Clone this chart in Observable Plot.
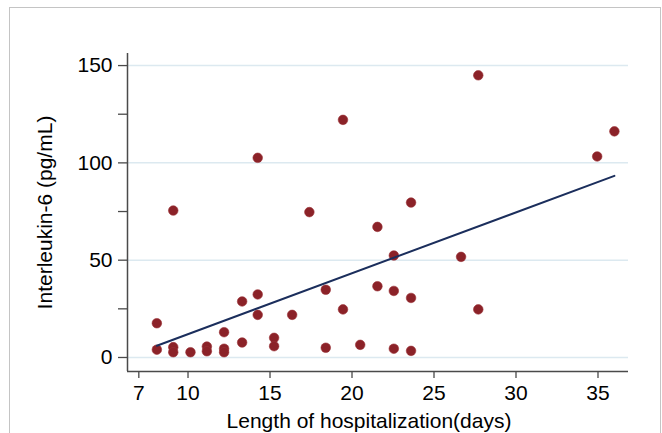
<!DOCTYPE html>
<html><head><meta charset="utf-8">
<script src="https://cdn.jsdelivr.net/npm/d3@7"></script>
<script src="https://cdn.jsdelivr.net/npm/@observablehq/plot@0.6"></script>
<style>
body{margin:0;background:#fff;}
#wrap{position:relative;width:662px;height:433px;overflow:hidden;background:#fff;}
#border{position:absolute;left:9px;top:7px;width:650px;height:460px;border:1px solid #c4c4c4;pointer-events:none;}
</style></head><body><div id="wrap"><div id="chart"></div><div id="border"></div></div>
<script>
const days = [8.1,8.1, 9.1,9.1,9.1, 10.15, 11.15,11.15, 12.2,12.2,12.2, 13.3,13.3, 14.25,14.25,14.25, 15.25,15.25, 16.35, 17.4, 18.4,18.4, 19.45,19.45, 20.5, 21.55,21.55, 22.55,22.55,22.55, 23.6,23.6,23.6, 26.65, 27.7,27.7, 34.95, 36.0];
const il6 = [17.6,4.0, 75.5,5.3,2.7, 2.7, 5.6,3.2, 13.0,4.5,2.7, 28.8,7.7, 102.6,32.4,21.9, 10.1,5.8, 21.9, 74.7, 34.8,5.0, 122.1,24.7, 6.5, 67.1,36.6, 52.4,34.2,4.5, 79.6,30.6,3.4, 51.7, 145.0,24.7, 103.3,116.2];
const xTicks = [7,10,15,20,25,30,35];
const yMajor = [0,50,100,150];
const yMinor = [25,75,125];
const xDomain = [6.31, 36.86];
const yDomain = [-7.2, 156.2];
const xLabel = "Length of hospitalization(days)";
const yLabel = "Interleukin-6 (pg/mL)";

const data = days.map((d,i)=>({days:d, il6:il6[i]}));
const axisColor = "#4a4a4a";

const chart = Plot.plot({
  width: 662, height: 433,
  marginLeft: 127, marginRight: 34, marginTop: 53, marginBottom: 62,
  style: {fontFamily: "'Liberation Sans', Arial, sans-serif", fontSize: "21px", color: "#000", background: "transparent"},
  x: {domain: xDomain},
  y: {domain: yDomain},
  marks: [
    Plot.gridY(yMajor, {stroke: "#dce9f0", strokeOpacity: 1, strokeWidth: 1.5}),
    Plot.ruleX([xDomain[0]], {stroke: axisColor, strokeWidth: 1.5}),
    Plot.ruleY([yDomain[0]], {stroke: axisColor, strokeWidth: 1.5}),
    Plot.axisY(yMajor, {tickSize: 9, tickPadding: 6, stroke: axisColor, strokeWidth: 1.3, fill: "#000", fontSize: 21,
      label: yLabel, labelAnchor: "center", labelOffset: 90, labelArrow: "none"}),
    Plot.axisY(yMinor, {tickSize: 9, stroke: axisColor, strokeWidth: 1.3, tickFormat: () => "", label: null}),
    Plot.axisX(xTicks, {tickSize: 7, tickPadding: 7, stroke: axisColor, strokeWidth: 1.3, fill: "#000", fontSize: 21, label: null}),
    Plot.text([xLabel], {frameAnchor: "bottom", dx: -9, dy: 56, lineAnchor: "bottom", fontSize: 21, fill: "#000"}),
    Plot.dot(data, {x: "days", y: "il6", r: 4.8, fill: "#8b2228", stroke: "#9a3036", strokeWidth: 0.6}),
    Plot.linearRegressionY(data, {x: "days", y: "il6", ci: 0, stroke: "#1b2e5c", strokeWidth: 2})
  ]
});
document.getElementById("chart").appendChild(chart);
</script>
</body></html>
